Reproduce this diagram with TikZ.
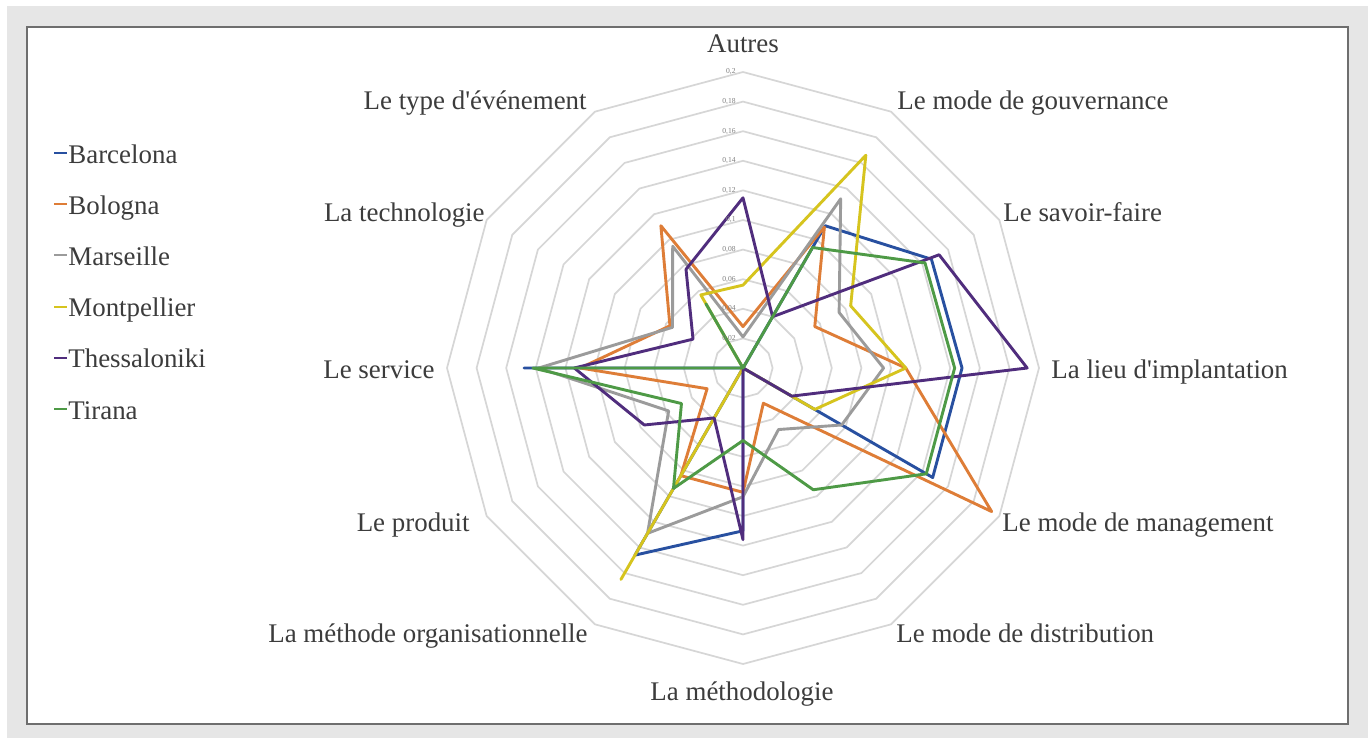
\documentclass[tikz,border=0pt]{standalone}
\usepackage{fontspec}
\setmainfont{Liberation Serif}[Ligatures=TeXOff]
\definecolor{bggray}{RGB}{230,230,230}
\definecolor{framegray}{RGB}{110,110,110}
\definecolor{ringgray}{RGB}{214,214,214}
\definecolor{txtgray}{RGB}{60,60,60}
\definecolor{tickgray}{RGB}{128,128,128}
\definecolor{cbarc}{RGB}{40,80,160}
\definecolor{cbolo}{RGB}{222,125,55}
\definecolor{cmars}{RGB}{155,155,155}
\definecolor{cmont}{RGB}{214,196,30}
\definecolor{cthes}{RGB}{80,45,125}
\definecolor{ctira}{RGB}{78,154,70}
\newcommand\radarseries[3]{\draw[series,#1] (90:{#2*1480}) \foreach \v [count=\i] in {#3} { -- ({90-30*\i}:{\v*1480}) } -- cycle;}
\begin{document}
\begin{tikzpicture}[x=0.5pt,y=0.5pt,
  ring/.style={draw=ringgray,line width=0.85pt},
  series/.style={line width=1.45pt,line join=round},
  lbl/.style={inner sep=0pt,text=txtgray,font=\fontsize{13.45}{16}\selectfont},
  tick/.style={inner sep=0pt,text=tickgray,font=\fontsize{3.8}{4.5}\selectfont,anchor=east},
  legdash/.style={line width=1pt}]
\useasboundingbox (0,0) rectangle (1372,-738);
\fill[white] (0,0) rectangle (1372,-738);
\fill[bggray] (7,-6) rectangle (1368,-738);
\filldraw[fill=white,draw=framegray,line width=1.1pt] (27,-27) rectangle (1348,-724);
\begin{scope}[shift={(743,-368)}]
  \foreach \k in {1,...,10} {
    \draw[ring] (90:{29.6*\k}) \foreach \j in {1,...,11} { -- ({90-30*\j}:{29.6*\k}) } -- cycle;
  }
  \radarseries{cbarc}{0}{0.111,0.147,0.148,0.148,0,0.11,0.146,0,0.148,0,0}
  \radarseries{cbolo}{0.028}{0.11,0.056,0.11,0.194,0.0275,0.084,0.084,0.028,0.11,0.057,0.111}
  \radarseries{cmars}{0.021}{0.132,0.075,0.095,0.077,0.048,0.087,0.129,0.058,0.138,0.055,0.095}
  \radarseries{cmont}{0.056}{0.166,0.084,0.11,0.056,0,0,0.165,0,0,0,0.057}
  \radarseries{cthes}{0.115}{0.04,0.153,0.192,0.038,0,0.116,0.039,0.077,0.114,0.039,0.077}
  \radarseries{ctira}{0}{0.094,0.142,0.143,0.143,0.095,0.049,0.094,0.048,0.142,0,0.05}
  \node[tick] (t1) at (-7,29.6) {0,02};
  \node[tick] (t2) at (-7,59.2) {0,04};
  \node[tick] (t3) at (-7,88.8) {0,06};
  \node[tick] (t4) at (-7,118.4) {0,08};
  \node[tick] (t5) at (-7,148) {0,1};
  \node[tick] (t6) at (-7,177.6) {0,12};
  \node[tick] (t7) at (-7,207.2) {0,14};
  \node[tick] (t8) at (-7,236.8) {0,16};
  \node[tick] (t9) at (-7,266.4) {0,18};
  \node[tick] (t10) at (-7,296) {0,2};
\end{scope}
% axis labels
\node[lbl,anchor=base] (autres) at (743,-53) {Autres};
\node[lbl,anchor=base west] (gouv) at (897,-110) {Le mode de gouvernance};
\node[lbl,anchor=base west] (savoir) at (1003,-221) {Le savoir-faire};
\node[lbl,anchor=base west] (lieu) at (1051,-378) {La lieu d'implantation};
\node[lbl,anchor=base west] (mgmt) at (1002,-531) {Le mode de management};
\node[lbl,anchor=base west] (distr) at (896,-642) {Le mode de distribution};
\node[lbl,anchor=base] (methodo) at (742,-700) {La méthodologie};
\node[lbl,anchor=base east] (methorg) at (588,-642) {La méthode organisationnelle};
\node[lbl,anchor=base east] (produit) at (470,-531) {Le produit};
\node[lbl,anchor=base east] (service) at (435,-378) {Le service};
\node[lbl,anchor=base east] (techno) at (485,-221) {La technologie};
\node[lbl,anchor=base east] (typeev) at (587,-110) {Le type d'événement};
% legend
\foreach \name/\col [count=\n from 0] in {Barcelona/cbarc,Bologna/cbolo,Marseille/cmars,Montpellier/cmont,Thessaloniki/cthes,Tirana/ctira} {
  \coordinate (ld\n a) at (54,{-163-51.2*\n+10});
  \coordinate (ld\n b) at (67,{-163-51.2*\n+10});
  \draw[legdash,\col] (ld\n a) -- (ld\n b);
  \node[lbl,anchor=base west] (leg\n) at (68,{-163-51.2*\n}) {\name};
}
\end{tikzpicture}
\end{document}
